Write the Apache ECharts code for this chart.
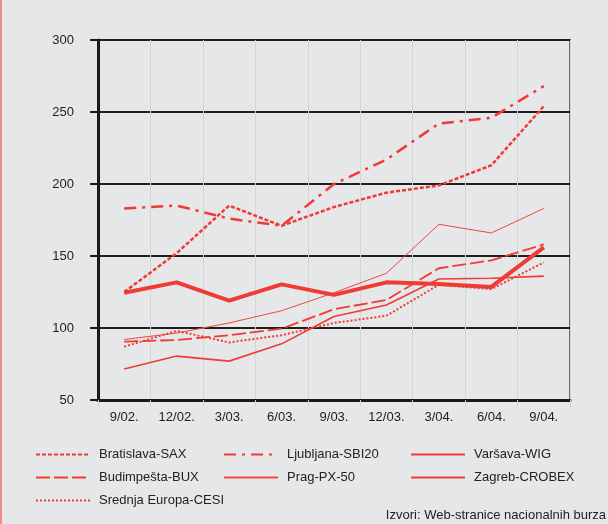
<!DOCTYPE html>
<html>
<head>
<meta charset="utf-8">
<script src="https://cdn.jsdelivr.net/npm/echarts@6/dist/echarts.min.js"></script>
<style>
  html, body { margin: 0; padding: 0; background: #e6e7e8; }
  #chart { width: 608px; height: 524px; }
</style>
</head>
<body>
<div id="chart"></div>
<script>
// Quarterly stock index values, end of period
const periods = ['9/02.', '12/02.', '3/03.', '6/03.', '9/03.', '12/03.', '3/04.', '6/04.', '9/04.'];
const yTicks = [50, 100, 150, 200, 250, 300];

const bratislavaSAX  = [125, 152, 185, 171, 184, 194, 199, 213, 254];
const ljubljanaSBI20 = [183, 185, 176, 171, 200, 217, 242, 246, 268];
const varsavaWIG     = [71.5, 80.5, 77, 89, 108, 116, 134, 134.5, 136];
const budimpestaBUX  = [90.5, 91.7, 95, 99.5, 113, 119.5, 141.5, 147, 158];
const pragPX50       = [92, 96.5, 103.5, 112, 124.5, 138, 172, 166, 183];
const zagrebCROBEX   = [124.5, 131.7, 119, 130.3, 123, 131.7, 130.5, 128.5, 156];
const srednjaCESI    = [87, 98, 90, 95, 103.5, 108.5, 130, 127, 145.5];

const RED = '#ef3b34';
const FONT = '"Liberation Sans", Arial, Helvetica, sans-serif';

function line(name, data, width, type, color) {
  return {
    name: name,
    type: 'line',
    data: data,
    symbol: 'none',
    showSymbol: false,
    smooth: false,
    animation: false,
    lineStyle: { color: color || RED, width: width, type: type, cap: 'butt' },
    itemStyle: { color: color || RED }
  };
}

const series = [
  line('Bratislava-SAX', bratislavaSAX, 2.5, [4, 2]),
  line('Ljubljana-SBI20', ljubljanaSBI20, 2.5, [12, 6, 3, 6]),
  line('Varšava-WIG', varsavaWIG, 1.6, 'solid'),
  line('Budimpešta-BUX', budimpestaBUX, 1.8, [14, 4]),
  line('Prag-PX-50', pragPX50, 1, 'solid', '#f0463f'),
  line('Zagreb-CROBEX', zagrebCROBEX, 4, 'solid'),
  line('Srednja Europa-CESI', srednjaCESI, 2, [2, 2])
];

// legend placement: three columns, three rows
const legendSlots = [
  { name: 'Bratislava-SAX', left: 35, top: 448 },
  { name: 'Ljubljana-SBI20', left: 223, top: 448 },
  { name: 'Varšava-WIG', left: 410, top: 448 },
  { name: 'Budimpešta-BUX', left: 35, top: 471 },
  { name: 'Prag-PX-50', left: 223, top: 471 },
  { name: 'Zagreb-CROBEX', left: 410, top: 471 },
  { name: 'Srednja Europa-CESI', left: 35, top: 494 }
];

const legends = legendSlots.map(s => ({
  data: [s.name],
  left: s.left,
  top: s.top,
  padding: 0,
  orient: 'horizontal',
  itemWidth: 54,
  itemHeight: 14,
  selectedMode: false,
  itemStyle: { opacity: 0 },
  textStyle: { fontFamily: FONT, fontSize: 13, color: '#222', padding: [0, 0, 0, 4] }
}));

const chart = echarts.init(document.getElementById('chart'), null, { renderer: 'canvas' });
chart.setOption({
  backgroundColor: '#e6e7e8',
  animation: false,
  textStyle: { fontFamily: FONT },
  grid: {
    left: 98, right: 38, top: 40, bottom: 124,
    show: true, borderColor: '#6a6a6a', borderWidth: 2, backgroundColor: 'transparent'
  },
  legend: legends,
  xAxis: {
    type: 'category',
    data: periods,
    boundaryGap: true,
    axisLine: { show: true, lineStyle: { color: '#1a1a1a', width: 3 } },
    axisTick: { show: true, length: 7, lineStyle: { color: '#d2d2d2', width: 1 } },
    axisLabel: { color: '#222', fontSize: 13, fontFamily: FONT, margin: 11 },
    splitLine: { show: true, lineStyle: { color: '#d6d6d6', width: 1 } }
  },
  yAxis: {
    type: 'value',
    min: yTicks[0],
    max: yTicks[yTicks.length - 1],
    interval: 50,
    axisLine: { show: true, lineStyle: { color: '#1a1a1a', width: 3 } },
    axisTick: { show: true, length: 8, lineStyle: { color: '#1a1a1a', width: 2 } },
    axisLabel: { color: '#222', fontSize: 13, fontFamily: FONT, margin: 24 },
    splitLine: { show: true, lineStyle: { color: '#1f1f1f', width: 2 } }
  },
  series: series,
  graphic: [
    { type: 'rect', left: 0, top: 0, shape: { width: 2, height: 524 }, style: { fill: '#f08a86' }, silent: true },
    {
      type: 'text', right: 2, top: 509,
      style: { text: 'Izvori: Web-stranice nacionalnih burza', font: '13px ' + FONT, fill: '#222' }
    }
  ]
});
</script>
</body>
</html>
